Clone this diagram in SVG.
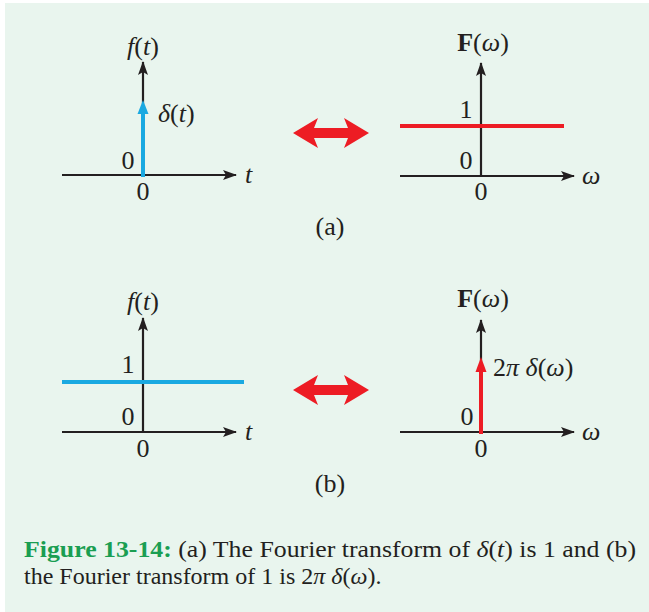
<svg xmlns="http://www.w3.org/2000/svg" width="649" height="612" viewBox="0 0 649 612">
<style>
.t{font-family:"Liberation Serif","Times New Roman",serif;font-size:26px;fill:#231f20}
.i{font-style:italic}
.b{font-weight:bold}
.ax{stroke:#231f20;stroke-width:2.2;fill:none}
.blue{stroke:#1aa9e1;stroke-width:4;fill:none}
.red{stroke:#ed1c24;stroke-width:4;fill:none}
.cap{font-family:"Liberation Serif","Times New Roman",serif;font-size:24px;fill:#231f20}
</style>
<defs>
<marker id="ah" markerWidth="14" markerHeight="10" refX="13" refY="5" orient="auto" markerUnits="userSpaceOnUse">
<path d="M0,0 L14,5 L0,10 L3,5 Z" fill="#231f20"/>
</marker>
</defs>
<rect x="0" y="0" width="649" height="612" fill="#fff"/>
<rect x="5" y="3" width="644" height="609" fill="#e9f5ee"/>

<g id="a-left">
<line class="ax" x1="62" y1="175" x2="236" y2="175" marker-end="url(#ah)"/>
<line class="ax" x1="143" y1="175" x2="143" y2="62" marker-end="url(#ah)"/>
<line class="blue" x1="143" y1="177" x2="143" y2="112"/>
<path d="M143,100 L148.5,114 L137.5,114 Z" fill="#1aa9e1"/>
<text class="t" x="143" y="55" text-anchor="middle"><tspan class="i">f</tspan>(<tspan class="i">t</tspan>)</text>
<text class="t" x="158" y="122"><tspan class="i">δ</tspan>(<tspan class="i">t</tspan>)</text>
<text class="t" x="128" y="169" text-anchor="middle">0</text>
<text class="t" x="143" y="200" text-anchor="middle">0</text>
<text class="t i" x="245" y="183">t</text>
</g>

<g id="a-right">
<line class="ax" x1="400" y1="176" x2="574" y2="176" marker-end="url(#ah)"/>
<line class="ax" x1="481" y1="176" x2="481" y2="63" marker-end="url(#ah)"/>
<line class="red" x1="400" y1="126" x2="564" y2="126"/>
<text class="t" x="483" y="51" text-anchor="middle"><tspan class="b">F</tspan>(<tspan class="i">ω</tspan>)</text>
<text class="t" x="466" y="118" text-anchor="middle">1</text>
<text class="t" x="466" y="169" text-anchor="middle">0</text>
<text class="t" x="481" y="200" text-anchor="middle">0</text>
<text class="t i" x="582" y="184">ω</text>
</g>

<g id="a-arrow">
<path d="M293,133 L318,118 L314,128 L348,128 L344,118 L369,133 L344,148 L348,138 L314,138 L318,148 Z" fill="#ed1c24"/>
</g>
<text class="t" x="330" y="235" text-anchor="middle">(a)</text>

<g id="b-left">
<line class="ax" x1="62" y1="432" x2="236" y2="432" marker-end="url(#ah)"/>
<line class="ax" x1="143" y1="432" x2="143" y2="318" marker-end="url(#ah)"/>
<line class="blue" x1="62" y1="382" x2="244" y2="382"/>
<text class="t" x="143" y="310" text-anchor="middle"><tspan class="i">f</tspan>(<tspan class="i">t</tspan>)</text>
<text class="t" x="128" y="373" text-anchor="middle">1</text>
<text class="t" x="128" y="425" text-anchor="middle">0</text>
<text class="t" x="143" y="457" text-anchor="middle">0</text>
<text class="t i" x="245" y="440">t</text>
</g>

<g id="b-right">
<line class="ax" x1="400" y1="432" x2="574" y2="432" marker-end="url(#ah)"/>
<line class="ax" x1="481" y1="432" x2="481" y2="320" marker-end="url(#ah)"/>
<line class="red" x1="481" y1="434" x2="481" y2="370"/>
<path d="M481,357 L486.5,372 L475.5,372 Z" fill="#ed1c24"/>
<text class="t" x="483" y="307" text-anchor="middle"><tspan class="b">F</tspan>(<tspan class="i">ω</tspan>)</text>
<text class="t" x="493" y="376">2<tspan class="i">π</tspan> <tspan class="i">δ</tspan>(<tspan class="i">ω</tspan>)</text>
<text class="t" x="467" y="425" text-anchor="middle">0</text>
<text class="t" x="481" y="457" text-anchor="middle">0</text>
<text class="t i" x="582" y="440">ω</text>
</g>

<g id="b-arrow">
<path d="M293,390 L318,375 L314,385 L348,385 L344,375 L369,390 L344,405 L348,395 L314,395 L318,405 Z" fill="#ed1c24"/>
</g>
<text class="t" x="330" y="492" text-anchor="middle">(b)</text>

<g id="caption">
<text class="cap" x="24" y="557" textLength="612" lengthAdjust="spacingAndGlyphs"><tspan fill="#1a9e52" font-weight="bold">Figure 13-14:</tspan> (a) The Fourier transform of <tspan class="i">δ</tspan>(<tspan class="i">t</tspan>) is 1 and (b)</text>
<text class="cap" x="24" y="584">the Fourier transform of 1 is 2<tspan class="i">π</tspan> <tspan class="i">δ</tspan>(<tspan class="i">ω</tspan>).</text>
</g>
</svg>
